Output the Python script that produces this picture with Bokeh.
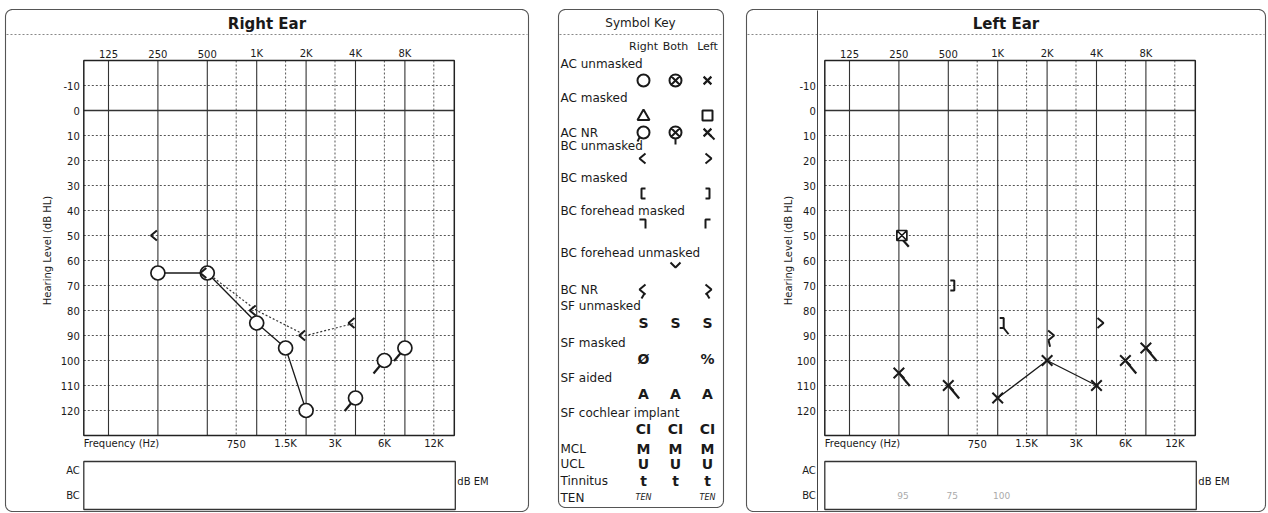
import numpy as np
from bokeh.plotting import figure
from bokeh.models import Range1d, LogScale
from bokeh.core.properties import value
from bokeh.embed import file_html
from bokeh.resources import INLINE

# ---------------- data ----------------
freq_major = [125, 250, 500, 1000, 2000, 4000, 8000]
freq_major_labels = ["125", "250", "500", "1K", "2K", "4K", "8K"]
freq_mid = [750, 1500, 3000, 6000, 12000]
freq_mid_labels = ["750", "1.5K", "3K", "6K", "12K"]
db_ticks = [-10, 0, 10, 20, 30, 40, 50, 60, 70, 80, 90, 100, 110, 120]
db_tick_labels = ["-10", "0", "10", "20", "30", "40", "50", "60", "70", "80",
                  "90", "100", "110", "120"]

# Right ear
right_ac_freq = [250, 500, 1000, 1500, 2000, 4000, 6000, 8000]
right_ac_db = [65, 65, 85, 95, 120, 115, 100, 95]
right_ac_nr = [0, 0, 0, 0, 0, 1, 1, 1]
right_bc_freq = [250, 500, 1000, 2000, 4000]
right_bc_db = [50, 65, 80, 90, 85]
right_bc_connect = [0, 1, 1, 1, 1]

# Left ear
left_ac_freq = [250, 500, 1000, 2000, 4000, 6000, 8000]
left_ac_db = [105, 110, 115, 100, 110, 100, 95]
left_ac_nr = [1, 1, 0, 0, 0, 1, 1]
left_acm_freq = [250]
left_acm_db = [50]
left_bcm_freq = [500, 1000]
left_bcm_db = [70, 85]
left_bcm_nr = [0, 1]
left_bc_freq = [2000, 4000]
left_bc_db = [90, 85]
left_bc_nr = [1, 0]
left_bc_em_freq = [250, 500, 1000]
left_bc_em_text = ["95", "75", "100"]

# Symbol key
key_labels = ["AC unmasked", "AC masked", "AC NR", "BC unmasked", "BC masked",
              "BC forehead masked", "BC forehead unmasked", "BC NR", "SF unmasked",
              "SF masked", "SF aided", "SF cochlear implant", "MCL", "UCL",
              "Tinnitus", "TEN"]
key_header = ["Right", "Both", "Left"]

# ---------------- geometry ----------------
W, H = 1268, 513
OCT = 49.4          # px per octave
Y0, PXDB = 110.0, 2.5
FONT = value("DejaVu Sans")
INK = "#1a1a1a"


def dby(Y):
    return (Y - Y0) / PXDB


def frange(x125):
    return Range1d(125 * 2 ** ((0 - x125) / OCT), 125 * 2 ** ((W - x125) / OCT))


p = figure(width=W, height=H, output_backend="svg", toolbar_location=None, tools="",
           x_range=Range1d(0, W), y_range=Range1d(H, 0), min_border=0,
           x_axis_location=None, y_axis_location=None)
p.xgrid.visible = False
p.ygrid.visible = False
p.outline_line_color = None
p.background_fill_color = "white"
p.border_fill_color = "white"
p.extra_x_ranges = {"R": frange(108), "L": frange(849)}
p.extra_x_scales = {"R": LogScale(), "L": LogScale()}
p.extra_y_ranges = {"dB": Range1d(dby(H), dby(0))}


def rounded_box(x0, y0, x1, y1, r=7, n=10):
    xs, ys = [], []
    for cx, cy, a0 in [(x0 + r, y0 + r, 180), (x1 - r, y0 + r, 270),
                       (x1 - r, y1 - r, 0), (x0 + r, y1 - r, 90)]:
        t = np.radians(np.linspace(a0, a0 + 90, n))
        xs += list(cx + r * np.cos(t))
        ys += list(cy + r * np.sin(t))
    xs.append(xs[0]); ys.append(ys[0])
    return xs, ys


def txt(x, y, t, size="10px", align="center", color=INK, style="normal", **kw):
    return p.text(x=x, y=y, text=t, text_font=FONT, text_font_size=size,
                  text_align=align, text_baseline="middle", text_color=color,
                  text_font_style=style, **kw)


# small symbol shapes, as pixel offsets around a point
CHEV_L = [(-1, -5), (-7, 0), (-1, 5)]          # "<" placed left of the line
CHEV_R = [(1, -5), (7, 0), (1, 5)]             # ">" placed right of the line
BRK_R = [(2, -5), (6, -5), (6, 5), (2, 5)]     # "]" placed right of the line
BRK_L = [(-2, -5), (-6, -5), (-6, 5), (-2, 5)]  # "["


def shape_data(f, d, pts, rn, lw=1.8):
    xs = [[fi * 2 ** (dx / OCT) for dx, dy in pts] for fi in f]
    ys = [[di + dy / PXDB for dx, dy in pts] for di in d]
    p.multi_line(xs=xs, ys=ys, line_color=INK, line_width=lw,
                 x_range_name=rn, y_range_name="dB")


def shape_px(x, y, pts, lw=2):
    xs = [[xi + dx for dx, dy in pts] for xi in x]
    ys = [[yi + dy for dx, dy in pts] for yi in y]
    p.multi_line(xs=xs, ys=ys, line_color=INK, line_width=lw)


def panel(x0, x1, title=None, y0=9, y1=511):
    xs, ys = rounded_box(x0, y0, x1, y1)
    p.line(xs, ys, line_color="#555", line_width=1.1)
    p.segment(x0=[x0 + 1], x1=[x1 - 1], y0=[34], y1=[34], line_color="#888",
              line_width=1, line_dash="2 2")
    if title:
        txt([(x0 + x1) / 2], [23], [title], size="15px", style="bold")


def ear_frame(rn, x125, gap=4):
    f_lo, f_hi = freq_major[0] / np.sqrt(2), freq_major[-1] * 2
    kw = dict(x_range_name=rn, y_range_name="dB")
    n = len(db_ticks)
    p.segment(x0=[f_lo] * n, x1=[f_hi] * n, y0=db_ticks, y1=db_ticks,
              line_color="#555", line_width=1, line_dash="2 2", **kw)
    p.segment(x0=freq_mid, x1=freq_mid, y0=[-20] * 5, y1=[130] * 5,
              line_color="#555", line_width=1, line_dash="2 2", **kw)
    p.segment(x0=freq_major, x1=freq_major, y0=[-20] * 7, y1=[130] * 7,
              line_color="#333", line_width=1.1, **kw)
    p.segment(x0=[f_lo], x1=[f_hi], y0=[0], y1=[0], line_color="#333",
              line_width=1.4, **kw)
    p.quad(left=[f_lo], right=[f_hi], top=[-20], bottom=[130], fill_color=None,
           line_color="#222", line_width=1.5, **kw)
    # tick labels
    txt(freq_major, [dby(53)] * 7, freq_major_labels, **kw)
    txt(freq_mid, [dby(443)] * 5, freq_mid_labels, **kw)
    txt([f_lo], [dby(443)], ["Frequency (Hz)"], align="left", **kw)
    pl = x125 - OCT / 2
    pr = x125 + 7 * OCT
    txt([pl - gap] * n, db_ticks, db_tick_labels, align="right", y_range_name="dB")
    txt([pl - 36], [250], ["Hearing Level (dB HL)"], size="10px", angle=np.pi / 2)
    # masking box
    p.quad(left=[pl], right=[pr + 1], top=[461], bottom=[509], fill_color=None,
           line_color="#333", line_width=1.3)
    txt([pl - gap, pl - gap], [470, 495], ["AC", "BC"], align="right")
    txt([pr + 3], [481], ["dB EM"], align="left")


# ---------------- panels ----------------
panel(5, 528, "Right Ear")
panel(558, 723, y1=507)
panel(746, 1265, "Left Ear")
p.segment(x0=[817], x1=[817], y0=[10], y1=[510], line_color="#444", line_width=1)

ear_frame("R", 108)
ear_frame("L", 849, gap=9)

# ---------------- right ear data ----------------
kwR = dict(x_range_name="R", y_range_name="dB")
rf = np.array(right_ac_freq, float); rd = np.array(right_ac_db, float)
rnr = np.array(right_ac_nr, bool)
p.line(rf[~rnr], rd[~rnr], line_color=INK, line_width=1.3, **kwR)
bf = np.array(right_bc_freq, float); bd = np.array(right_bc_db, float)
bc_c = np.array(right_bc_connect, bool)
p.line(bf[bc_c], bd[bc_c], line_color="#333", line_width=1.2, line_dash="2 2", **kwR)
p.segment(x0=rf[rnr], y0=rd[rnr], x1=rf[rnr] * 2 ** -0.22, y1=rd[rnr] + 5.2,
          line_color=INK, line_width=2.2, **kwR)
p.scatter(rf, rd, marker="circle", size=14, fill_color="white", line_color=INK,
          line_width=1.7, **kwR)
shape_data(bf, bd, CHEV_L, "R", lw=2)

# ---------------- left ear data ----------------
kwL = dict(x_range_name="L", y_range_name="dB")
lf = np.array(left_ac_freq, float); ld = np.array(left_ac_db, float)
lnr = np.array(left_ac_nr, bool)
p.line(lf[~lnr], ld[~lnr], line_color=INK, line_width=1.3, **kwL)
p.segment(x0=lf[lnr], y0=ld[lnr], x1=lf[lnr] * 2 ** 0.22, y1=ld[lnr] + 5.2,
          line_color=INK, line_width=2.2, **kwL)
p.scatter(lf, ld, marker="x", size=15, line_color=INK, line_width=2, **kwL)
# masked AC (NR)
af = np.array(left_acm_freq, float); ad = np.array(left_acm_db, float)
p.segment(x0=af, y0=ad, x1=af * 2 ** 0.2, y1=ad + 4.5, line_color=INK,
          line_width=2.2, **kwL)
p.scatter(af * 2 ** 0.06, ad, marker="square_x", size=10, fill_color="white",
          line_color=INK, line_width=1.7, **kwL)
# masked BC
mf = np.array(left_bcm_freq, float); md = np.array(left_bcm_db, float)
mnr = np.array(left_bcm_nr, bool)
p.segment(x0=mf[mnr] * 2 ** 0.12, y0=md[mnr] + 2, x1=mf[mnr] * 2 ** 0.22,
          y1=md[mnr] + 4.5, line_color=INK, line_width=2, **kwL)
shape_data(mf, md, BRK_R, "L", lw=2)
# unmasked BC
cf = np.array(left_bc_freq, float); cd = np.array(left_bc_db, float)
cnr = np.array(left_bc_nr, bool)
p.segment(x0=cf[cnr] * 2 ** 0.03, y0=cd[cnr] + 2, x1=cf[cnr] * 2 ** 0.06,
          y1=cd[cnr] + 4.5, line_color=INK, line_width=2, **kwL)
shape_data(cf, cd, CHEV_R, "L", lw=2)
# BC effective masking levels
txt(left_bc_em_freq, [dby(495)] * 3, left_bc_em_text, size="9px", color="#aaa",
    x_offset=4, **kwL)

# ---------------- symbol key ----------------
KR, KB, KL = 643, 675, 707
txt([640], [22], ["Symbol Key"], size="12px")
txt([KR, KB, KL], [46] * 3, key_header, size="11px")
label_y = [63, 97, 132, 145, 177, 210, 252, 289, 305, 342, 377, 412, 448, 463, 480, 497]
txt([560] * len(key_labels), label_y, key_labels, size="12px", align="left")

# markers
p.scatter([KR, KR], [80, 132], marker="circle", size=12, fill_color="white",
          line_color=INK, line_width=2)
p.scatter([KB, KB], [80, 132], marker="circle_x", size=12, fill_color="white",
          line_color=INK, line_width=2)
p.scatter([KL, KL], [80, 132], marker="x", size=11, line_color=INK, line_width=2.2)
p.scatter([KR], [116], marker="triangle", size=12, fill_color="white",
          line_color=INK, line_width=2)
p.scatter([KL], [115], marker="square", size=10, fill_color="white",
          line_color=INK, line_width=2)
# NR tails in key
p.segment(x0=[KR - 4, KB, KL + 3, KR + 1, KL - 1],
          y0=[137, 138, 135, 293, 293],
          x1=[KR - 6, KB, KL + 7, KR - 2, KL + 2],
          y1=[141, 144, 139, 298, 298], line_color=INK, line_width=2)
# chevrons / brackets in key
shape_px([KR + 3], [158], CHEV_L)
shape_px([KL - 3], [158], CHEV_R)
shape_px([KR + 4], [193], BRK_L)
shape_px([KL - 4], [193], BRK_R)
shape_px([KR + 3], [289], CHEV_L)
shape_px([KL - 3], [289], CHEV_R)
shape_px([KR], [219], [(-4, 0), (2, 0), (2, 9)])
shape_px([KL], [219], [(3, 0), (-2, 0), (-2, 9)])
shape_px([KB], [264], [(-5, -2), (0, 3), (5, -2)])
# text symbols
sym_x = [KR, KB, KL, KR, KL, KR, KB, KL,
         KR, KB, KL, KR, KB, KL, KR, KB, KL, KR, KB, KL]
sym_y = [322, 322, 322, 358, 358, 393, 393, 393,
         428, 428, 428, 448, 448, 448, 463, 463, 463, 480, 480, 480]
sym_t = ["S", "S", "S", "Ø", "%", "A", "A", "A",
         "CI", "CI", "CI", "M", "M", "M", "U", "U", "U", "t", "t", "t"]
txt(sym_x, sym_y, sym_t, size="14px", style="bold")
txt([KR, KL], [497, 497], ["TEN", "TEN"], size="8px", style="italic")

open("out.html", "w").write(file_html(p, INLINE))
